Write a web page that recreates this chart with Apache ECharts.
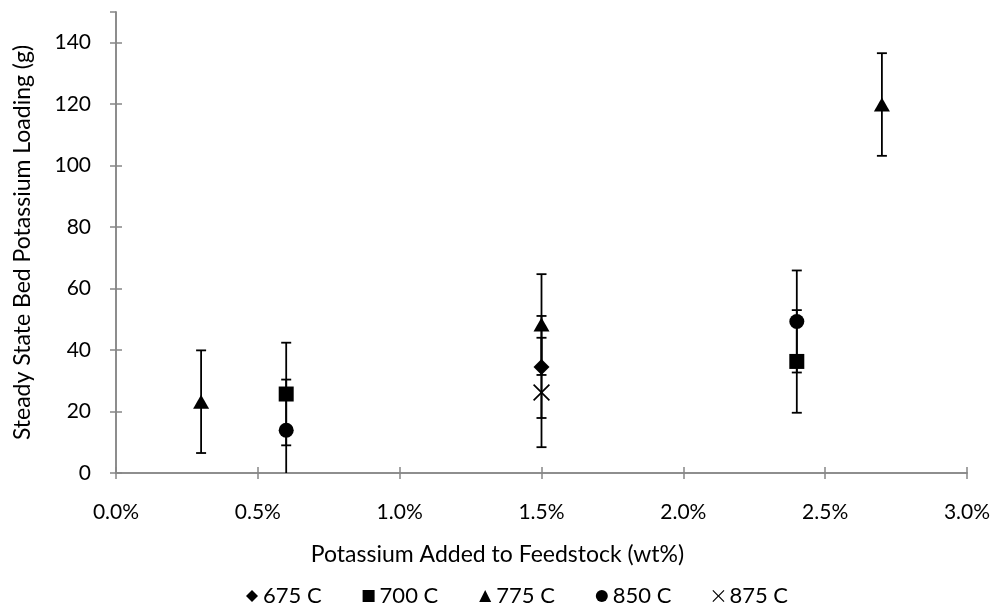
<!DOCTYPE html>
<html>
<head>
<meta charset="utf-8">
<script src="https://cdn.jsdelivr.net/npm/echarts@6/dist/echarts.min.js"></script>
<style>
  html, body { margin: 0; padding: 0; background: #fff; }
  #chart { width: 995px; height: 607px; }
</style>
</head>
<body>
<div id="chart"></div>
<script>
// Potassium added (wt%) / bed loading (g) / error (+-)
var x675 = [1.5]
var y675 = [34.5]
var e675 = [16.6]

var x700 = [0.6, 2.4]
var y700 = [25.7, 36.3]
var e700 = [16.7, 16.7]

var x775 = [0.3, 1.5, 2.7]
var y775 = [23.2, 48.3, 119.9]
var e775 = [16.7, 16.4, 16.7]

var x850 = [0.6, 2.4]
var y850 = [13.9, 49.3]
var e850 = [16.5, 16.6]

var x875 = [1.5]
var y875 = [26.2]
var e875 = [17.8]

var names = ['675 C', '700 C', '775 C', '850 C', '875 C']

var FONT = 'Lato'
var crossPath = 'path://M0,0.7L0.7,0L5,4.3L9.3,0L10,0.7L5.7,5L10,9.3L9.3,10L5,5.7L0.7,10L0,9.3L4.3,5Z'

function points(xs, ys) {
  return xs.map(function (x, i) { return [x, ys[i]]; });
}
function bars(xs, ys, es) {
  return xs.map(function (x, i) { return [x, ys[i] - es[i], ys[i] + es[i]]; });
}

function renderErr(params, api) {
  var x = api.value(0);
  var lo = api.coord([x, api.value(1)]);
  var hi = api.coord([x, api.value(2)]);
  var w = 5;
  var st = { stroke: '#000', lineWidth: 1.8 };
  return {
    type: 'group',
    children: [
      { type: 'line', shape: { x1: hi[0], y1: hi[1], x2: lo[0], y2: lo[1] }, style: st },
      { type: 'line', shape: { x1: hi[0] - w, y1: hi[1], x2: hi[0] + w, y2: hi[1] }, style: st },
      { type: 'line', shape: { x1: lo[0] - w, y1: lo[1], x2: lo[0] + w, y2: lo[1] }, style: st }
    ]
  };
}

function errSeries(name, xs, ys, es) {
  return {
    name: name,
    type: 'custom',
    clip: true,
    renderItem: renderErr,
    encode: { x: 0, y: [1, 2] },
    itemStyle: { color: '#000' },
    data: bars(xs, ys, es),
    z: 2
  };
}

function dotSeries(name, xs, ys, symbol, size) {
  return {
    name: name,
    type: 'scatter',
    symbol: symbol,
    symbolSize: size,
    itemStyle: { color: '#000', opacity: 1 },
    data: points(xs, ys),
    z: 3
  };
}

var axisGray = '#868686'

var option = {
  animation: false,
  backgroundColor: '#fff',
  color: ['#000'],
  textStyle: { fontFamily: FONT },
  grid: { left: 116, right: 28, top: 12, bottom: 134 },
  title: {
    text: 'Potassium Added to Feedstock (wt%)',
    left: 'center',
    top: 543,
    padding: 0,
    textStyle: { fontFamily: FONT, fontSize: 23, fontWeight: 'normal', color: '#000' }
  },
  legend: {
    data: [
      { name: names[0], icon: 'diamond' },
      { name: names[1], icon: 'rect' },
      { name: names[2], icon: 'triangle' },
      { name: names[3], icon: 'circle' },
      { name: names[4], icon: crossPath }
    ],
    top: 585,
    left: 246,
    padding: 0,
    itemWidth: 12,
    itemHeight: 12,
    itemGap: 41,
    itemStyle: { color: '#000' },
    textStyle: { fontFamily: FONT, fontSize: 22, color: '#000' }
  },
  xAxis: [{
    type: 'value',
    min: 0,
    max: 3,
    interval: 0.5,
    axisLine: { show: true, lineStyle: { color: axisGray, width: 1.5 } },
    axisTick: { show: true, inside: true, length: 6, lineStyle: { color: axisGray, width: 1.5 } },
    axisLabel: {
      margin: 29,
      fontFamily: FONT,
      fontSize: 21,
      color: '#000',
      formatter: function (v) { return v.toFixed(1) + '%'; }
    },
    splitLine: { show: false }
  }, {
    type: 'value',
    position: 'top',
    min: 0,
    max: 3,
    interval: 0.5,
    axisLine: { show: true, lineStyle: { color: axisGray, width: 1.5 } },
    axisTick: { show: true, inside: true, length: 6, lineStyle: { color: axisGray, width: 1.5 } },
    axisLabel: { show: false },
    splitLine: { show: false }
  }],
  yAxis: [{
    type: 'value',
    min: 0,
    max: 150,
    interval: 20,
    name: 'Steady State Bed Potassium Loading (g)',
    nameLocation: 'middle',
    nameGap: 82,
    nameTextStyle: { fontFamily: FONT, fontSize: 23, color: '#000' },
    axisLine: { show: true, lineStyle: { color: axisGray, width: 1.5 } },
    axisTick: { show: true, inside: true, length: 6, lineStyle: { color: axisGray, width: 1.5 } },
    axisLabel: {
      margin: 25,
      fontFamily: FONT,
      fontSize: 21,
      color: '#000',
      showMaxLabel: false
    },
    splitLine: { show: false }
  }, {
    type: 'value',
    position: 'right',
    min: 0,
    max: 150,
    interval: 20,
    axisLine: { show: true, lineStyle: { color: axisGray, width: 1.5 } },
    axisTick: { show: true, inside: true, length: 6, lineStyle: { color: axisGray, width: 1.5 } },
    axisLabel: { show: false },
    splitLine: { show: false }
  }],
  series: [
    errSeries(names[0], x675, y675, e675),
    errSeries(names[1], x700, y700, e700),
    errSeries(names[2], x775, y775, e775),
    errSeries(names[3], x850, y850, e850),
    errSeries(names[4], x875, y875, e875),
    dotSeries(names[0], x675, y675, 'diamond', 16),
    dotSeries(names[1], x700, y700, 'rect', 15),
    dotSeries(names[2], x775, y775, 'triangle', [16, 14]),
    dotSeries(names[3], x850, y850, 'circle', 15),
    dotSeries(names[4], x875, y875, crossPath, 17)
  ]
};

var chart = echarts.init(document.getElementById('chart'));
chart.setOption(option);
</script>
</body>
</html>
